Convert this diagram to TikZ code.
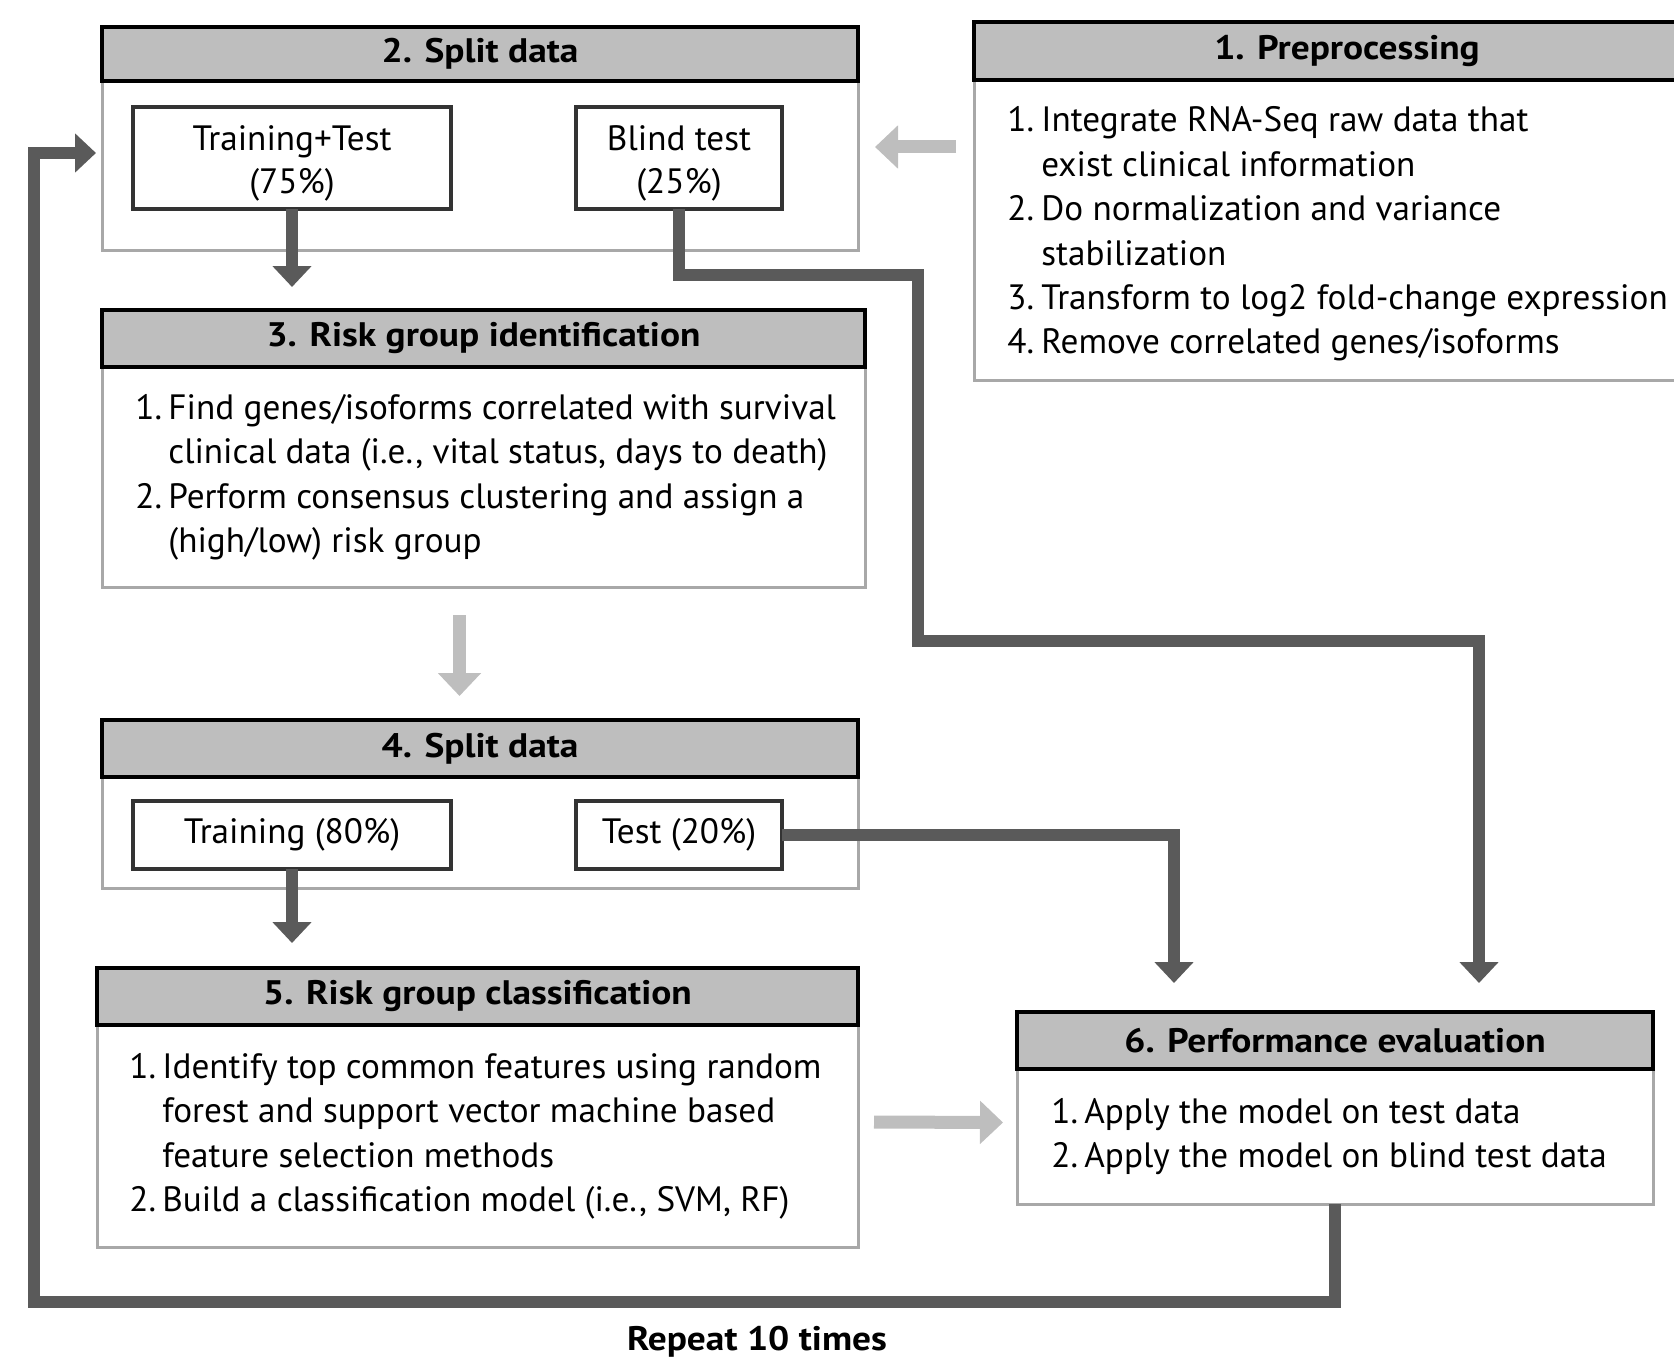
\documentclass[tikz,border=0pt]{standalone}
\usepackage{fontspec}
\setmainfont{PT Sans}
\newfontfamily\headfont{PT Sans}[FakeStretch=1.1]
\usepackage{tikz}
\usetikzlibrary{arrows.meta,positioning}
\definecolor{headgray}{HTML}{BEBEBE}
\definecolor{framegray}{HTML}{A8A8A8}
\definecolor{boxdark}{HTML}{333333}
\definecolor{pipegray}{HTML}{5A5A5A}
\definecolor{hintgray}{HTML}{BEBEBE}
\tikzset{%
  stepbody/.style  = {shape=rectangle, draw=framegray, line width=1.5pt,%
                      fill=white, outer sep=0pt, anchor=north west},%
  stephead/.style  = {shape=rectangle, draw=black, line width=2pt,%
                      fill=headgray, outer sep=0pt, anchor=south west,%
                      font=\headfont\fontsize{17}{22}\selectfont\bfseries},%
  subsetbox/.style = {shape=rectangle, draw=boxdark, line width=2pt,%
                      fill=white, align=center, outer sep=0pt,%
                      font=\fontsize{17.6}{21.3}\selectfont},%
  steplist/.style  = {inner sep=0pt, anchor=west, align=left},%
  pipearrow/.style = {draw=pipegray, line width=6pt,%
                      -{Triangle[length=10.5pt,width=19pt]}},%
  hintarrow/.style = {draw=hintgray, line width=6.5pt,%
                      -{Triangle[length=11.5pt,width=21pt]}}%
}

\begin{document}
\begin{tikzpicture}
  [x=0.5pt,y=-0.5pt,
  every node/.style = {font=\fontsize{17.6}{22.2}\selectfont}]
  \useasboundingbox (0,0) rectangle (1674,1364);
  \clip (0,0) rectangle (1674,1364);
  % 1. preprocessing (runs off the right edge)
  \node[stepbody, minimum width=373pt, minimum height=150pt] (prebody) at (974,80) {};
  \node[stephead, minimum width=373pt, minimum height=29pt] (prehead) at (prebody.north west) {1. Preprocessing};
  \node[steplist] (pretext) at ([shift={(16.5pt,-2pt)}]prebody.west) {%
    \begin{tabular}{@{}p{17pt}@{}l@{}}
      1. & Integrate RNA-Seq raw data that\\
         & exist clinical information\\
      2. & Do normalization and variance\\
         & stabilization\\
      3. & Transform to log2 fold-change expression\\
      4. & Remove correlated genes/isoforms
    \end{tabular}};
  % 2. split data
  \node[stepbody, minimum width=378pt, minimum height=84.5pt] (splitbody) at (102,81) {};
  \node[stephead, minimum width=378pt, minimum height=27pt] (splithead) at (splitbody.north west) {2. Split data};
  \node[subsetbox, minimum width=159pt, minimum height=51pt, text height=39pt, below right=13pt and 15.5pt of splitbody.north west] (trte) {Training+Test\\(75\%)};
  \node[subsetbox, minimum width=103pt, minimum height=51pt, text height=39pt, below right=13pt and 237pt of splitbody.north west] (blind) {Blind test\\(25\%)};
  % 3. risk group identification
  \node[stepbody, minimum width=381.5pt, minimum height=110pt] (riskbody) at (102,367) {};
  \node[stephead, minimum width=381.5pt, minimum height=28.5pt] (riskhead) at (riskbody.north west) {3. Risk group identification};
  \node[steplist] (risktext) at ([xshift=16.5pt]riskbody.west) {%
    \begin{tabular}{@{}p{16.5pt}@{}l@{}}
      1. & Find genes/isoforms correlated with survival\\
         & clinical data (i.e., vital status, days to death)\\
      2. & Perform consensus clustering and assign a\\
         & (high/low) risk group
    \end{tabular}};
  % 4. split data
  \node[stepbody, minimum width=378pt, minimum height=55.5pt] (split2body) at (102,777) {};
  \node[stephead, minimum width=378pt, minimum height=28.5pt] (split2head) at (split2body.north west) {4. Split data};
  \node[subsetbox, minimum width=159pt, minimum height=34pt, below right=12pt and 15.5pt of split2body.north west] (train) {Training (80\%)};
  \node[subsetbox, minimum width=103pt, minimum height=34pt, below right=12pt and 237pt of split2body.north west] (test) {Test (20\%)};
  % 5. risk group classification
  \node[stepbody, minimum width=380.5pt, minimum height=111pt] (classbody) at (97,1025) {};
  \node[stephead, minimum width=380.5pt, minimum height=28.5pt] (classhead) at (classbody.north west) {5. Risk group classification};
  \node[steplist] (classtext) at ([xshift=16pt]classbody.west) {%
    \begin{tabular}{@{}p{16.5pt}@{}l@{}}
      1. & Identify top common features using random\\
         & forest and support vector machine based\\
         & feature selection methods\\
      2. & Build a classification model (i.e., SVM, RF)
    \end{tabular}};
  % 6. performance evaluation
  \node[stepbody, minimum width=318pt, minimum height=67.5pt] (evalbody) at (1017,1069) {};
  \node[stephead, minimum width=318pt, minimum height=28.5pt] (evalhead) at (evalbody.north west) {6. Performance evaluation};
  \node[steplist] (evaltext) at ([xshift=17pt]evalbody.west) {%
    \begin{tabular}{@{}p{16.5pt}@{}l@{}}
      1. & Apply the model on test data\\
      2. & Apply the model on blind test data
    \end{tabular}};
  \coordinate (loopin) at (96,153);
  \node[font=\headfont\fontsize{17}{22}\selectfont\bfseries] (repeat) at (757,1342) {Repeat 10 times};
  % connectors
  \draw[hintarrow] ([shift={(-9pt,41.5pt)}]prebody.west) -- ([shift={(8.5pt,9.25pt)}]splitbody.east);
  \draw[pipearrow] (trte.south) -- ++(0,78);
  \draw[hintarrow] ([shift={(-12pt,-14pt)}]riskbody.south) -- ++(0,81);
  \draw[pipearrow] (train.south) -- ++(0,74);
  \draw[hintarrow] ([shift={(8pt,7pt)}]classbody.east) -- ([shift={(-7pt,7pt)}]evalbody.west);
  \draw[pipearrow, shorten >=14.5pt] (blind.south) -- ++(0,66) -- ++(239,0) -- ++(0,366) -| ([xshift=72pt]evalhead.north);
  \draw[pipearrow, shorten >=14.5pt] (test.east) -| ([xshift=-80.5pt]evalhead.north);
  \draw[pipearrow] (evalbody.south) -- ++(0,98) -- ++(-1301,0) |- (loopin);
\end{tikzpicture}
\end{document}
